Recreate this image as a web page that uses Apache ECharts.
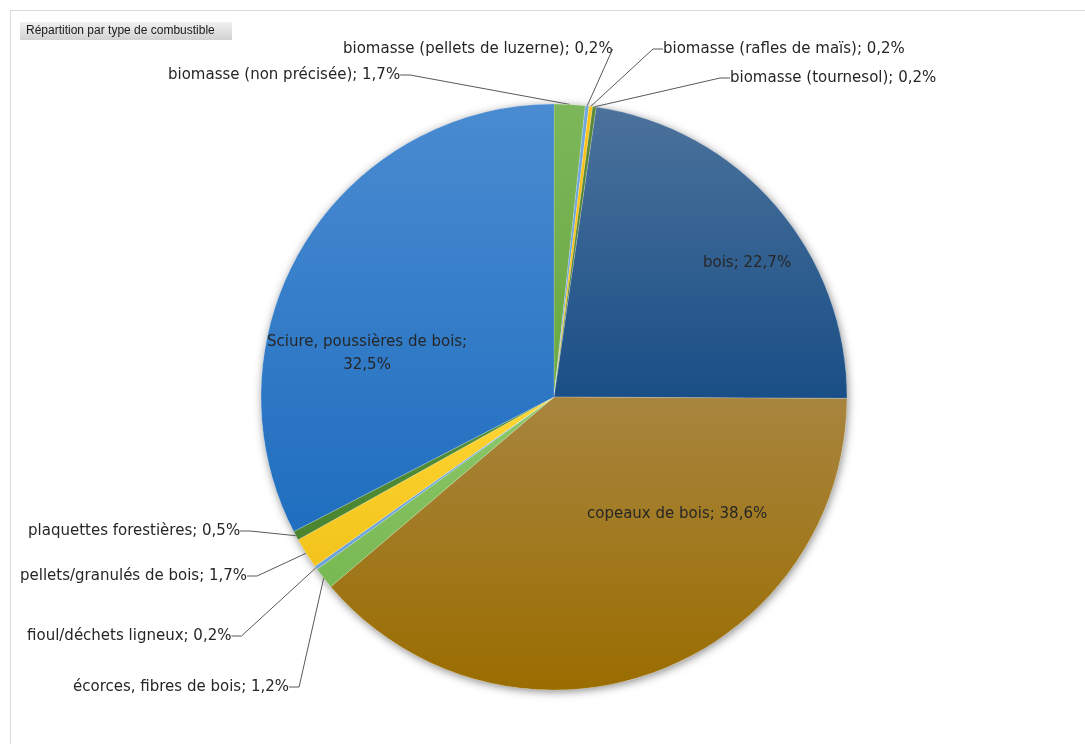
<!DOCTYPE html>
<html>
<head>
<meta charset="utf-8">
<script src="https://cdn.jsdelivr.net/npm/echarts@6/dist/echarts.min.js"></script>
<style>
  html, body { margin: 0; padding: 0; background: #ffffff; }
  #chart { width: 1085px; height: 744px; }
</style>
</head>
<body>
<div id="chart"></div>
<script>
// Fuel types, clockwise from 12 o'clock
const categories = [
  'biomasse (non précisée)',
  'biomasse (pellets de luzerne)',
  'biomasse (rafles de maïs)',
  'biomasse (tournesol)',
  'bois',
  'copeaux de bois',
  'écorces, fibres de bois',
  'fioul/déchets ligneux',
  'pellets/granulés de bois',
  'plaquettes forestières',
  'Sciure, poussières de bois'
];
// Share of each fuel type (%)
const shares = [1.7, 0.2, 0.2, 0.2, 22.7, 38.6, 1.2, 0.2, 1.7, 0.5, 32.5];

// Slice fills: [top colour, bottom colour]
const fills = [
  ['#7cb75a', '#6aa840'],
  ['#73a8dc', '#5f9bd4'],
  ['#ffc51a', '#f5b800'],
  ['#5b8a3a', '#4c7a2c'],
  ['#4b729b', '#194e86'],
  ['#a8853f', '#9a6d00'],
  ['#8cc86a', '#78b852'],
  ['#78acde', '#6aa2d8'],
  ['#ffd633', '#f2c31c'],
  ['#55903a', '#4a842e'],
  ['#4a8bd1', '#1f6ebf']
];

// Slices whose label sits on the slice itself
const insideLabels = ['bois', 'copeaux de bois', 'Sciure, poussières de bois'];

// Label anchor (left x, middle y) per slice
const labelSpots = {
  'biomasse (non précisée)': [168, 75],
  'biomasse (pellets de luzerne)': [343, 49],
  'biomasse (rafles de maïs)': [663, 49],
  'biomasse (tournesol)': [730, 78],
  'bois': [703, 263],
  'copeaux de bois': [587, 514],
  'écorces, fibres de bois': [73, 687],
  'fioul/déchets ligneux': [27, 636],
  'pellets/granulés de bois': [20, 576],
  'plaquettes forestières': [28, 531],
  'Sciure, poussières de bois': [267, 354]
};

const fmt = v => v.toFixed(1).replace('.', ',') + '%';

const seriesData = categories.map((name, i) => {
  const inside = insideLabels.indexOf(name) >= 0;
  return {
    name: name,
    value: shares[i],
    itemStyle: {
      color: {
        type: 'linear', x: 0, y: 0, x2: 0, y2: 1,
        colorStops: [
          { offset: 0, color: fills[i][0] },
          { offset: 1, color: fills[i][1] }
        ]
      }
    },
    label: {
      position: inside ? 'inside' : 'outside',
      align: name === 'Sciure, poussières de bois' ? 'center' : 'left'
    },
    labelLine: { show: !inside }
  };
});

const chart = echarts.init(document.getElementById('chart'), null, { renderer: 'canvas' });

chart.setOption({
  backgroundColor: '#ffffff',
  animation: false,
  graphic: [
    // chart frame
    { type: 'line', shape: { x1: 10.5, y1: 10, x2: 10.5, y2: 744 }, style: { stroke: '#d9d9d9', lineWidth: 1 }, z: 0 },
    { type: 'line', shape: { x1: 10, y1: 10.5, x2: 1085, y2: 10.5 }, style: { stroke: '#d9d9d9', lineWidth: 1 }, z: 0 },
    // title tab
    {
      type: 'rect', shape: { x: 20, y: 22, width: 212, height: 18 },
      style: {
        fill: {
          type: 'linear', x: 0, y: 0, x2: 0, y2: 1,
          colorStops: [{ offset: 0, color: '#f0f0f0' }, { offset: 1, color: '#d2d2d2' }]
        }
      },
      z: 1
    },
    {
      type: 'text', x: 26, y: 31,
      style: {
        text: 'Répartition par type de combustible',
        font: '12px "Liberation Sans", sans-serif',
        fill: '#1a1a1a',
        verticalAlign: 'middle'
      },
      z: 2
    }
  ],
  series: [
    {
      // soft shadow beneath the pie
      type: 'pie',
      silent: true,
      center: [554, 397],
      radius: 293,
      label: { show: false },
      labelLine: { show: false },
      itemStyle: {
        color: '#ffffff',
        shadowBlur: 8,
        shadowOffsetX: 1,
        shadowOffsetY: 2,
        shadowColor: 'rgba(0,0,0,0.45)'
      },
      data: [{ value: 1, name: '' }],
      z: 1
    },
    {
      type: 'pie',
      center: [554, 397],
      radius: 293,
      startAngle: 90,
      clockwise: true,
      avoidLabelOverlap: false,
      minAngle: 0,
      itemStyle: { borderWidth: 0.5, borderColor: 'rgba(255,255,255,0.35)' },
      label: {
        show: true,
        color: '#262626',
        fontFamily: '"DejaVu Sans"',
        fontSize: 15,
        lineHeight: 23,
        formatter: p => p.name === 'Sciure, poussières de bois'
          ? p.name + ';\n' + fmt(p.value)
          : p.name + '; ' + fmt(p.value)
      },
      labelLine: {
        show: true,
        length: 10,
        length2: 10,
        lineStyle: { color: '#595959', width: 1 }
      },
      labelLayout: function (params) {
        const spot = labelSpots[categories[params.dataIndex]];
        if (!spot) return {};
        const isCenter = categories[params.dataIndex] === 'Sciure, poussières de bois';
        return {
          x: isCenter ? spot[0] + params.labelRect.width / 2 : spot[0],
          y: spot[1],
          align: isCenter ? 'center' : 'left',
          verticalAlign: 'middle',
          moveOverlap: false,
          hideOverlap: false
        };
      },
      emphasis: { disabled: true },
      data: seriesData,
      z: 2
    }
  ]
});
</script>
</body>
</html>
